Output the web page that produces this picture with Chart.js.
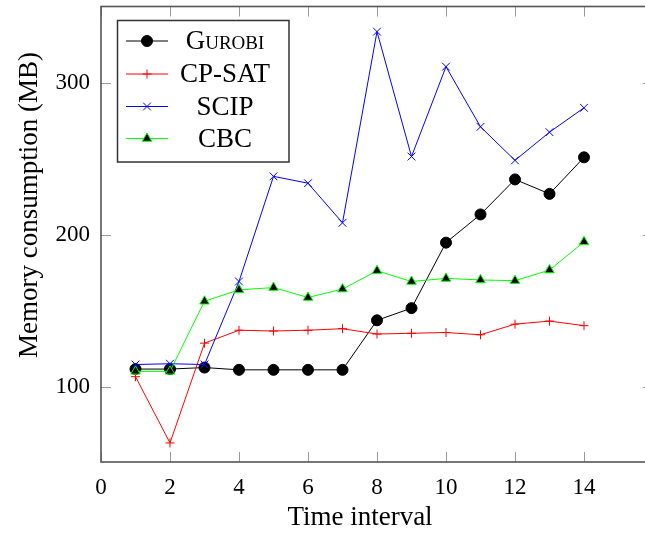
<!DOCTYPE html>
<html>
<head>
<meta charset="utf-8">
<script src="https://cdn.jsdelivr.net/npm/chart.js@4/dist/chart.umd.min.js"></script>
<style>
  html, body { margin: 0; padding: 0; background: #fff; overflow: hidden; }
  canvas { display: block; }
</style>
</head>
<body>
<canvas id="memChart" width="660" height="534"></canvas>
<script>
// === data ===
const timeIntervals = [1, 2, 3, 4, 5, 6, 7, 8, 9, 10, 11, 12, 13, 14];
const gurobiMem = [112, 112, 113, 111.5, 111.5, 111.5, 111.5, 144, 152, 195, 213.5, 236.5, 227, 251];
const cpsatMem  = [107, 63.5, 129, 137.5, 137, 137.5, 138.5, 135, 135.5, 136, 134.5, 141.5, 143.5, 140.5];
const scipMem   = [115, 115.5, 115, 169.5, 238.5, 234, 208, 333.5, 251.5, 310.5, 271, 249, 267.5, 283.5];
const cbcMem    = [110.5, 110.5, 156.5, 164, 165.5, 159, 164.5, 176.5, 169.5, 171.5, 170.5, 170, 177, 195.5];
const xTickValues = [0, 2, 4, 6, 8, 10, 12, 14];
const yTickValues = [100, 200, 300];

const SERIF = '"Liberation Serif", "Times New Roman", serif';

function toPoints(values) {
  return values.map((v, i) => ({ x: timeIntervals[i], y: v }));
}

// === axis box with inward ticks, like pgfplots ===
const frame = {
  id: 'frame',
  beforeDatasetsDraw(chart) {
    const { ctx, chartArea: a, scales: { x, y } } = chart;
    ctx.save();
    ctx.strokeStyle = '#9a9a9a';
    ctx.lineWidth = 1;
    ctx.beginPath();
    xTickValues.forEach(v => {
      const px = Math.round(x.getPixelForValue(v)) + 0.5;
      ctx.moveTo(px, a.bottom); ctx.lineTo(px, a.bottom - 10);
      ctx.moveTo(px, a.top); ctx.lineTo(px, a.top + 10);
    });
    yTickValues.forEach(v => {
      const py = Math.round(y.getPixelForValue(v)) + 0.5;
      ctx.moveTo(a.left, py); ctx.lineTo(a.left + 10, py);
      ctx.moveTo(a.right, py); ctx.lineTo(a.right - 10, py);
    });
    ctx.stroke();
    ctx.strokeStyle = '#555';
    ctx.lineWidth = 1.6;
    ctx.strokeRect(a.left, a.top, a.right - a.left, a.bottom - a.top);
    ctx.restore();
  }
};

// === axis titles and boxed legend ===
const labels = {
  id: 'labels',
  afterDraw(chart) {
    const { ctx } = chart;
    ctx.save();
    ctx.fillStyle = '#000';
    ctx.font = '27px ' + SERIF;
    ctx.textAlign = 'center';
    ctx.textBaseline = 'alphabetic';
    ctx.fillText('Time interval', 360, 525);
    ctx.translate(37, 205);
    ctx.rotate(-Math.PI / 2);
    ctx.fillText('Memory consumption (MB)', 0, 0);
    ctx.restore();

    // legend
    ctx.save();
    const box = { left: 117.5, top: 20.5, right: 289, bottom: 162 };
    ctx.fillStyle = '#fff';
    ctx.fillRect(box.left, box.top, box.right - box.left, box.bottom - box.top);
    ctx.strokeStyle = '#333';
    ctx.lineWidth = 1.5;
    ctx.strokeRect(box.left, box.top, box.right - box.left, box.bottom - box.top);
    const rows = [41, 74, 106.5, 138.5];
    chart.data.datasets.forEach((ds, i) => {
      const yy = rows[i];
      ctx.strokeStyle = ds.borderColor;
      ctx.lineWidth = 1;
      ctx.beginPath();
      ctx.moveTo(126, yy); ctx.lineTo(168, yy);
      ctx.stroke();
      ctx.fillStyle = ds.pointBackgroundColor;
      ctx.strokeStyle = ds.pointBorderColor;
      Chart.helpers.drawPoint(ctx, {
        pointStyle: ds.pointStyle, radius: ds.pointRadius,
        borderWidth: ds.pointBorderWidth, rotation: 0
      }, 147, yy);
      ctx.fillStyle = '#000';
      ctx.font = '27px ' + SERIF;
      ctx.fontVariantCaps = ds.smallCaps ? 'small-caps' : 'normal';
      ctx.textAlign = 'center';
      ctx.textBaseline = 'middle';
      ctx.fillText(ds.label, 225, yy + 1);
    });
    ctx.restore();
  }
};

new Chart(document.getElementById('memChart'), {
  type: 'line',
  data: {
    datasets: [
      {
        label: 'Gurobi', smallCaps: true, data: toPoints(gurobiMem), order: 3,
        borderColor: '#000', borderWidth: 1,
        pointStyle: 'circle', pointRadius: 5.5, pointBackgroundColor: '#000',
        pointBorderColor: '#000', pointBorderWidth: 1
      },
      {
        label: 'CP-SAT', data: toPoints(cpsatMem), order: 2,
        borderColor: '#ff0000', borderWidth: 1,
        pointStyle: 'cross', pointRadius: 4.5, pointBackgroundColor: '#ff0000',
        pointBorderColor: '#ff0000', pointBorderWidth: 1
      },
      {
        label: 'SCIP', data: toPoints(scipMem), order: 1,
        borderColor: '#0000ff', borderWidth: 1,
        pointStyle: 'crossRot', pointRadius: 5.5, pointBackgroundColor: '#0000ff',
        pointBorderColor: '#0000ff', pointBorderWidth: 1
      },
      {
        label: 'CBC', data: toPoints(cbcMem), order: 0,
        borderColor: '#00ff00', borderWidth: 1,
        pointStyle: 'triangle', pointRadius: 5.5, pointBackgroundColor: '#000',
        pointBorderColor: '#00ff00', pointBorderWidth: 1
      }
    ]
  },
  options: {
    responsive: false,
    animation: false,
    events: [],
    layout: { padding: { left: 0, top: 5, right: 7, bottom: 0 } },
    plugins: { legend: { display: false }, tooltip: { enabled: false } },
    elements: { line: { tension: 0 } },
    scales: {
      x: {
        type: 'linear', min: 0, max: 16,
        afterBuildTicks: s => { s.ticks = xTickValues.map(v => ({ value: v })); },
        afterFit: s => { s.height = 72; s.paddingLeft = 0; s.paddingRight = 0; },
        grid: { display: false, drawTicks: false },
        border: { display: false },
        ticks: { font: { family: SERIF, size: 23 }, color: '#000', padding: 12, maxRotation: 0, autoSkip: false }
      },
      y: {
        type: 'linear', min: 51, max: 350,
        afterBuildTicks: s => { s.ticks = yTickValues.map(v => ({ value: v })); },
        afterFit: s => { s.width = 101; s.paddingTop = 0; s.paddingBottom = 0; },
        grid: { display: false, drawTicks: false },
        border: { display: false },
        ticks: { font: { family: SERIF, size: 23 }, color: '#000', padding: 11 }
      }
    }
  },
  plugins: [frame, labels]
});
</script>
</body>
</html>
